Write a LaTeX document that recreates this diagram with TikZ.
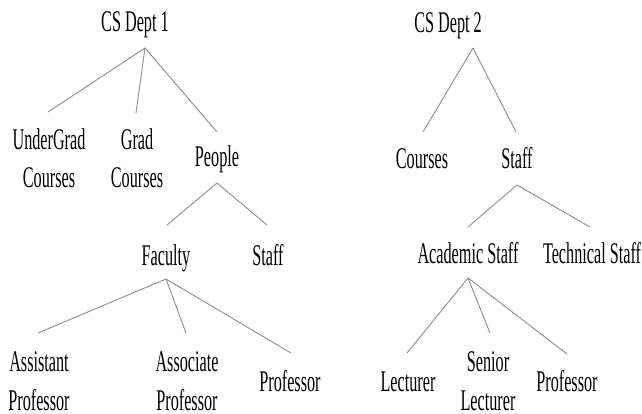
\documentclass[tikz,border=0pt]{standalone}
\usepackage{fontspec}
\setmainfont[FakeStretch=0.54]{Liberation Serif}
\begin{document}
\begin{tikzpicture}[x=1pt,y=-1pt,
  lbl/.style={inner sep=0pt,anchor=base,align=center,font=\fontsize{30}{38}\selectfont},
  lbllow/.style={lbl,font=\fontsize{30}{39}\selectfont},
  edge/.style={draw=black!45,line width=0.9pt}]
\useasboundingbox (0,0) rectangle (642,414);
% tree 1 (two-line labels are placed at the baseline of their last line)
\node[lbl] (cs1) at (135,32) {CS Dept 1};
\node[lbl] (ug) at (49,188) {UnderGrad\\Courses};
\node[lbl] (grad) at (137,188) {Grad\\Courses};
\node[lbl] (people) at (217,167) {People};
\node[lbl] (faculty) at (166,265) {Faculty};
\node[lbl] (staff1) at (268,265) {Staff};
\node[lbllow] (asst) at (39,410) {Assistant\\Professor};
\node[lbllow] (assoc) at (187,410) {Associate\\Professor};
\node[lbl] (prof1) at (290,391) {Professor};
% tree 2
\node[lbl] (cs2) at (448,33) {CS Dept 2};
\node[lbl] (courses2) at (422,168) {Courses};
\node[lbl] (staff2) at (517,168) {Staff};
\node[lbl] (acad) at (468,263) {Academic Staff};
\node[lbl] (tech) at (592,263) {Technical Staff};
\node[lbl] (lect) at (408,391) {Lecturer};
\node[lbllow] (senior) at (488,410) {Senior\\Lecturer};
\node[lbl] (prof2) at (567,391) {Professor};
% connector points
\coordinate (cs1-s) at (145,48);
\coordinate (ug-n) at (48,112);
\coordinate (grad-n) at (136,113);
\coordinate (people-n) at (217,132);
\coordinate (people-s) at (217,183);
\coordinate (faculty-n) at (167,225);
\coordinate (staff1-n) at (267,225);
\coordinate (faculty-s) at (166,279);
\coordinate (asst-n) at (38,333);
\coordinate (assoc-n) at (186,333);
\coordinate (prof1-n) at (291,353);
\coordinate (cs2-s) at (473,48);
\coordinate (courses2-n) at (423,132);
\coordinate (staff2-n) at (516,132);
\coordinate (staff2-s) at (517,185);
\coordinate (acad-n) at (468,227);
\coordinate (tech-n) at (590,227);
\coordinate (acad-s) at (468,278);
\coordinate (lect-n) at (407,353);
\coordinate (senior-n) at (490,333);
\coordinate (prof2-n) at (567,354);
% connectors
\draw[edge] (cs1-s) -- (ug-n);
\draw[edge] (cs1-s) -- (grad-n);
\draw[edge] (cs1-s) -- (people-n);
\draw[edge] (people-s) -- (faculty-n);
\draw[edge] (people-s) -- (staff1-n);
\draw[edge] (faculty-s) -- (asst-n);
\draw[edge] (faculty-s) -- (assoc-n);
\draw[edge] (faculty-s) -- (prof1-n);
\draw[edge] (cs2-s) -- (courses2-n);
\draw[edge] (cs2-s) -- (staff2-n);
\draw[edge] (staff2-s) -- (acad-n);
\draw[edge] (staff2-s) -- (tech-n);
\draw[edge] (acad-s) -- (lect-n);
\draw[edge] (acad-s) -- (senior-n);
\draw[edge] (acad-s) -- (prof2-n);
\end{tikzpicture}
\end{document}
